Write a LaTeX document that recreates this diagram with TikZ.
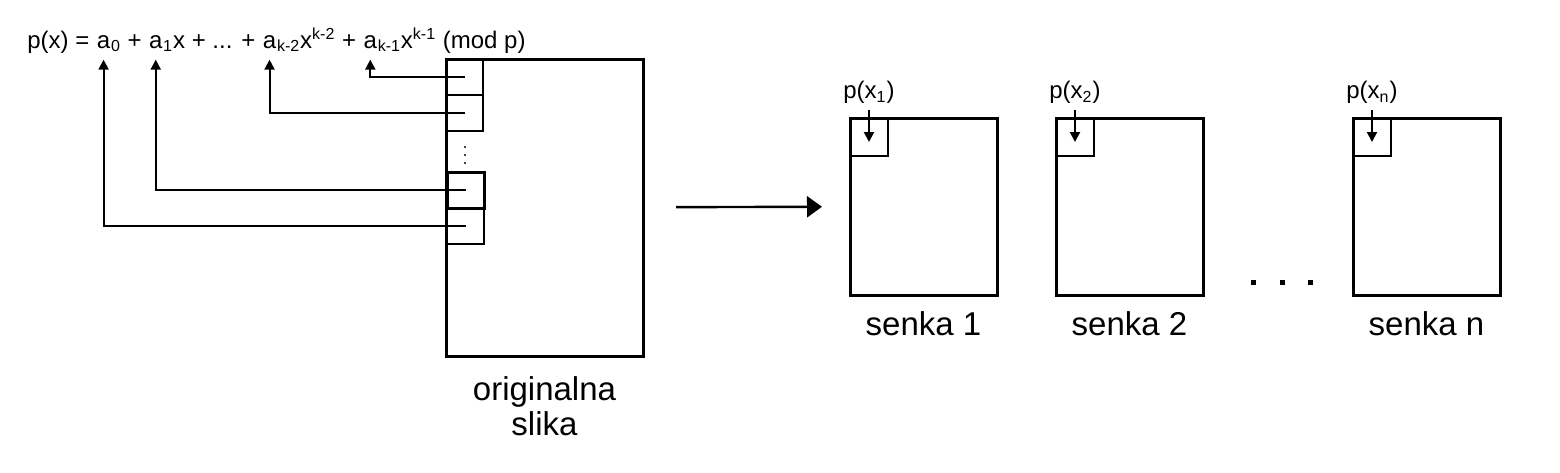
\documentclass[tikz,border=0pt]{standalone}
\usepackage{fontspec}
\setmainfont{Liberation Sans}
\usetikzlibrary{arrows.meta,positioning}

\tikzset{
  box/.style={draw, line width=1.5pt, inner sep=0pt, outer sep=0pt},
  cell/.style={draw, line width=1pt, inner sep=0pt, outer sep=0pt,
    minimum width=18.5pt, minimum height=18pt},
  conn/.style={line width=1pt, -{Triangle[length=5pt,width=5pt]}},
  part/.style={inner sep=0pt, font=\fontsize{12}{14}\selectfont},
  lbl/.style={inner sep=0pt, align=center, font=\fontsize{16.5}{17.5}\selectfont},
}

\begin{document}
\begin{tikzpicture}[x=0.5pt,y=-0.5pt]
\useasboundingbox (0,0) rectangle (1560,472);

% original image with its cells
\node[box, minimum width=98.5pt, minimum height=148.5pt, anchor=north west] (orig) at (446,59) {};
\node[cell, anchor=north west] (c1) at (orig.north west) {};
\node[cell, below=0pt of c1] (c2) {};
\foreach \y in {147,155,163}
  \fill (465,\y) circle (0.6pt);
\node[cell, line width=1.5pt, anchor=north west] (c3) at (447,172) {};
\node[cell, below=0pt of c3] (c4) {};
\node[lbl, below=10pt of orig] (ot) {originalna\\slika};

% the polynomial
\node[part, anchor=base west] (f0) at (27,48) {p(x) =\ \null};
\node[part, anchor=base west] (a0) at (f0.base east) {a};
\node[part, anchor=base west] (f1) at (a0.base east) {\textsubscript{0}\ +\ \null};
\node[part, anchor=base west] (a1) at (f1.base east) {a};
\node[part, anchor=base west] (f2) at (a1.base east) {\textsubscript{1}x + ... +\ \null};
\node[part, anchor=base west] (ak2) at (f2.base east) {a};
\node[part, anchor=base west] (f3) at (ak2.base east) {\textsubscript{k-2}x\textsuperscript{k-2} +\ \null};
\node[part, anchor=base west] (ak1) at (f3.base east) {a};
\node[part, anchor=base west] (f4) at (ak1.base east) {\textsubscript{k-1}x\textsuperscript{k-1} (mod p)};

\draw[conn, shorten >=5.5pt] (c1.center) -| (ak1.south);
\draw[conn, shorten >=5.5pt] (c2.center) -| (ak2.south);
\draw[conn, shorten >=5.5pt] (c3.center) -| (a1.south);
\draw[conn, shorten >=5.5pt] (c4.center) -| (a0.south);

% shadows
\foreach \i/\x in {1/850, 2/1056, n/1353} {
  \node[box, minimum width=73.5pt, minimum height=88.5pt, anchor=north west] (s\i) at (\x,118) {};
  \node[cell, minimum width=19pt, minimum height=19pt, anchor=north west] (q\i) at (s\i.north west) {};
  \node[part, above=7pt of q\i] (p\i) {p(x\textsubscript{\i})};
  \draw[conn, shorten <=3pt, shorten >=7pt] (p\i.south) -- (q\i.south);
  \node[lbl, below=8pt of s\i] (t\i) {senka \i};
}

\draw[line width=1.2pt, -{Triangle[length=7.5pt,width=10.5pt]}, shorten <=16.5pt, shorten >=14pt] (orig) -- (s1);

\foreach \x in {1253,1282,1310}
  \fill (\x-2.5,279.5) rectangle ++(5,5);

\end{tikzpicture}
\end{document}
